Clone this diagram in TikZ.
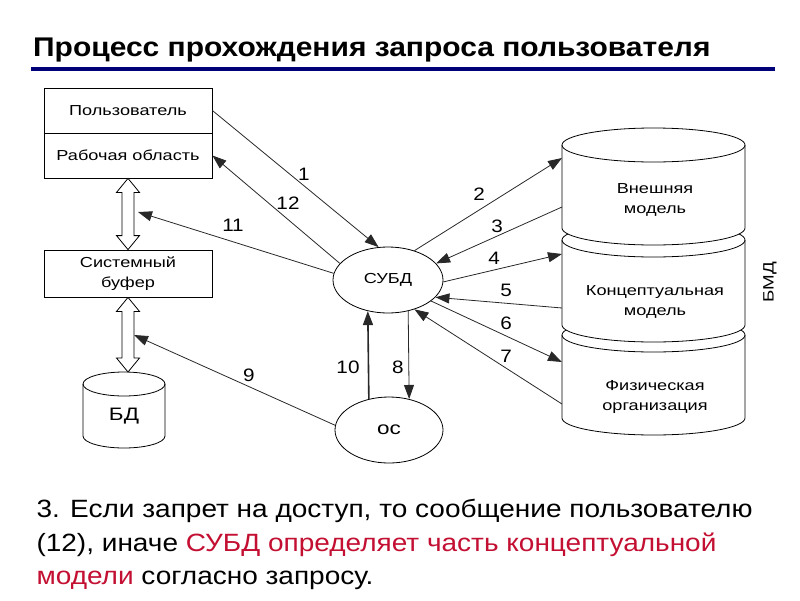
\documentclass[tikz,border=0pt]{standalone}
\usepackage{fontspec}
\setmainfont{Liberation Sans}
\newfontfamily\widefont[FakeStretch=1.25]{Liberation Sans}
\newfontfamily\numfont[FakeStretch=1.15]{Liberation Sans}
\newfontfamily\headfont[FakeStretch=1.11]{Liberation Sans}
\newfontfamily\notefont[FakeStretch=1.12]{Liberation Sans}
\usetikzlibrary{arrows.meta,shapes.geometric,calc}
\definecolor{titleblue}{RGB}{0,0,120}
\definecolor{hlred}{RGB}{195,15,50}
\definecolor{inkgray}{RGB}{40,40,40}

% drum: x centre, top y, bottom y, x radius, y radius
\newcommand\drum[5]{%
\draw[fill=white,line width=0.8pt] (#1-#4,#2)--(#1-#4,#3)
  arc[start angle=180,end angle=360,x radius=#4pt,y radius=#5pt]--(#1+#4,#2)
  arc[start angle=0,end angle=180,x radius=#4pt,y radius=#5pt]--cycle;
\draw[line width=0.8pt] (#1-#4,#2) arc[start angle=180,end angle=360,x radius=#4pt,y radius=#5pt];}

% hollow vertical double arrow between two points
\newcommand\hollowarrow[2]{%
\draw[fill=white,line width=0.8pt] let \p1=(#1), \p2=(#2) in
  (\x1,\y1)--(\x1+11.5pt,\y1-14pt)--(\x1+6pt,\y1-14pt)--(\x1+6pt,\y2+14pt)
  --(\x1+11.5pt,\y2+14pt)--(\x1,\y2)--(\x1-11.5pt,\y2+14pt)--(\x1-6pt,\y2+14pt)
  --(\x1-6pt,\y1-14pt)--(\x1-11.5pt,\y1-14pt)--cycle;}

\begin{document}
\begin{tikzpicture}[x=1pt,y=-1pt,
  cell/.style={draw,line width=0.8pt,minimum width=168pt,inner sep=0pt,align=center,
    font=\widefont\fontsize{14.5}{20}\selectfont},
  oval/.style={draw,line width=0.8pt,ellipse,minimum width=110pt,minimum height=66pt,inner sep=0pt},
  lbl/.style={align=center,font=\widefont\fontsize{14.5}{20}\selectfont},
  num/.style={font=\numfont\fontsize{18}{20}\selectfont},
  arr/.style={inkgray,line width=0.8pt,-{Triangle[length=14pt,width=10pt]}},
  note/.style={anchor=base west,font=\notefont\fontsize{25}{30}\selectfont}]
\useasboundingbox (0,0) rectangle (800,600);

\node[anchor=base west,inner sep=0pt,font=\headfont\bfseries\fontsize{27}{30}\selectfont] (head) at (33,56)
  {Процесс прохождения запроса пользователя};
\draw[titleblue,line width=4pt] (31,69)--(775,69);

% user side
\node[cell,minimum height=45pt] (user) at (128,110.5) {Пользователь};
\node[cell,minimum height=45pt] (work) at (128,155.5) {Рабочая область};
\node[cell,minimum height=47pt] (buf) at (128,273.5) {Системный\\буфер};
\drum{124}{384}{436}{41}{12}
\node[lbl,font=\widefont\fontsize{18}{20}\selectfont] (bd) at (124,416) {БД};
\coordinate (bdtop) at (124,372);
\hollowarrow{work.south}{buf.north}
\hollowarrow{buf.south}{bdtop}
\coordinate (tip11) at (138,212);
\coordinate (tip9) at (134,335);

% dbms and os
\node[oval,font=\widefont\fontsize{14.5}{16}\selectfont] (subd) at (388,280) {СУБД};
\node[oval,minimum width=108pt,font=\widefont\fontsize{18}{20}\selectfont] (os) at (389,430) {ос};

% database stack
\drum{653.5}{335}{418}{91.5}{17}
\drum{653.5}{240}{325}{91.5}{17}
\drum{653.5}{145}{228}{91.5}{17}
\node[lbl] (ext) at (655,200) {Внешняя\\модель};
\node[lbl] (conc) at (655,302) {Концептуальная\\модель};
\node[lbl] (phys) at (655,397) {Физическая\\организация};
\node[rotate=90,font=\widefont\fontsize{15}{18}\selectfont] (bmd) at (770,282) {БМД};
\coordinate (in2) at (562,158);
\coordinate (out3) at (562,207);
\coordinate (in4) at (562,254);
\coordinate (out5) at (562,308);
\coordinate (in6) at (562,362);
\coordinate (out7) at (562,404);

% requests
\draw[arr] (user.east)--(subd.106);
\draw[arr] (subd.161)--(work.east);
\draw[arr] (subd.173)--(tip11);
\draw[arr] (subd.48)--(in2);
\draw[arr] (out3)--(subd.19);
\draw[arr] (subd.358)--(in4);
\draw[arr] (out5)--(subd.340);
\draw[arr] (subd.334)--(in6);
\draw[arr] (out7)--(subd.312);
\draw[arr] (os.175)--(tip9);
\draw[arr,line width=1.6pt] (os.123)--(subd.237);
\draw[arr] (subd.303)--(os.57);

\node[num] (n1) at (304,174) {1};
\node[num] (n12) at (288,203) {12};
\node[num] (n11) at (233,225) {11};
\node[num] (n2) at (479,194) {2};
\node[num] (n3) at (497,226) {3};
\node[num] (n4) at (494,258) {4};
\node[num] (n5) at (506,290) {5};
\node[num] (n6) at (506,323) {6};
\node[num] (n7) at (506,356) {7};
\node[num] (n9) at (249,375) {9};
\node[num] (n10) at (348,367) {10};
\node[num] (n8) at (398,367) {8};

% step text
\node[note] (note1) at (33,517) {3. Если запрет на доступ, то сообщение пользователю};
\node[note] (note2) at (33,551) {(12), иначе \textcolor{hlred}{СУБД определяет часть концептуальной}};
\node[note] (note3) at (33,584) {\textcolor{hlred}{модели} согласно запросу.};
\end{tikzpicture}
\end{document}
